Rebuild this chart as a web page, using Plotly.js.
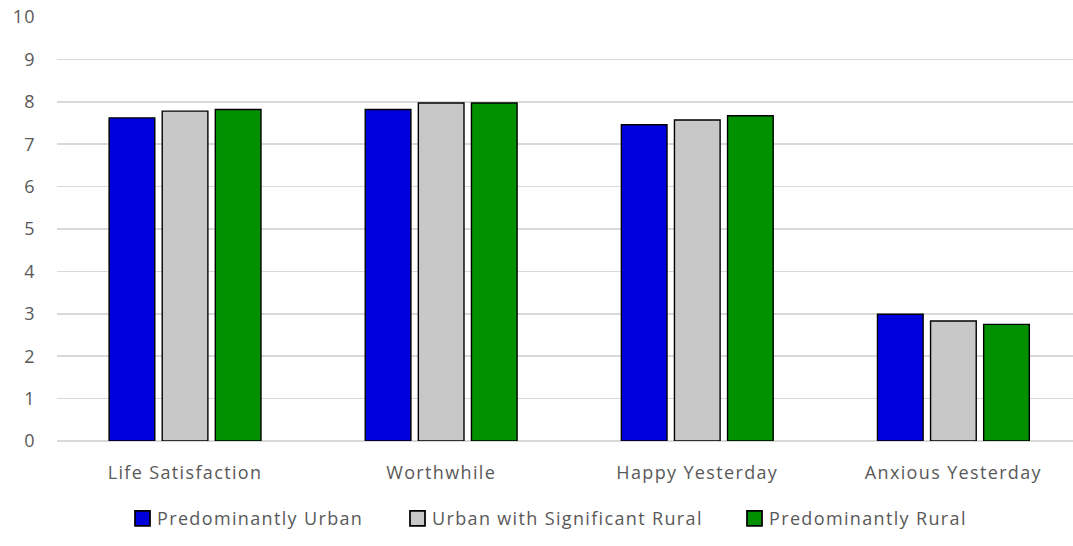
<!DOCTYPE html>
<html>
<head>
<meta charset="utf-8">
<script src="https://cdn.plot.ly/plotly-3.0.1.min.js"></script>
<style>
html,body{margin:0;padding:0;background:#fff;}
#chart{width:1073px;height:546px;}
text{letter-spacing:1.35px;}
.legendpoints path{transform:translate(25.5px,0px) scale(1.25);}
</style>
</head>
<body>
<div id="chart"></div>
<script>
const categories = ["Life Satisfaction", "Worthwhile", "Happy Yesterday", "Anxious Yesterday"];
const seriesNames = ["Predominantly Urban", "Urban with Significant Rural", "Predominantly Rural"];
const urban = [7.62, 7.82, 7.46, 2.99];
const urbanRural = [7.78, 7.97, 7.57, 2.83];
const rural = [7.82, 7.97, 7.67, 2.75];
const colors = ["#0000DD", "#C8C8C8", "#009000"];
const yTicks = [0, 1, 2, 3, 4, 5, 6, 7, 8, 9, 10];

const font = "Open Sans, Liberation Sans, sans-serif";
const legendIds = ["legend", "legend2", "legend3"];
const traces = [urban, urbanRural, rural].map((vals, i) => ({
  type: "bar",
  name: seriesNames[i],
  x: categories,
  y: vals,
  legend: legendIds[i],
  marker: {color: colors[i], line: {color: "#000000", width: 1.4}},
  hoverinfo: "x+y"
}));

function legendAt(leftPx) {
  return {
    orientation: "h",
    xref: "container", yref: "container",
    x: leftPx / 1073, xanchor: "left",
    y: 0.05, yanchor: "middle",
    bgcolor: "rgba(0,0,0,0)",
    font: {family: font, size: 18, color: "#595959"},
    itemwidth: 30
  };
}

const layout = {
  width: 1073, height: 546,
  margin: {l: 57, r: 0, t: 17, b: 105},
  paper_bgcolor: "#ffffff", plot_bgcolor: "#ffffff",
  font: {family: font, size: 18, color: "#595959"},
  barmode: "group",
  bargap: 0.378,
  bargroupgap: 0.14,
  xaxis: {
    type: "category",
    range: [-0.5, 3.467],
    showgrid: false,
    showline: false,
    zeroline: false,
    ticks: "",
    ticklabelstandoff: 19,
    tickfont: {family: font, size: 18, color: "#595959"}
  },
  yaxis: {
    range: [0, 10],
    tickvals: yTicks,
    ticktext: yTicks.map(String),
    showgrid: true,
    gridcolor: "#D9D9D9",
    gridwidth: 1.5,
    zeroline: true,
    zerolinecolor: "#D9D9D9",
    zerolinewidth: 1.5,
    showline: false,
    ticks: "",
    ticklabelstandoff: 20,
    tickfont: {family: font, size: 18, color: "#595959"}
  },
  showlegend: true,
  legend: legendAt(117),
  legend2: legendAt(392),
  legend3: legendAt(729)
};

Plotly.newPlot("chart", traces, layout, {displayModeBar: false, staticPlot: true});
</script>
</body>
</html>
